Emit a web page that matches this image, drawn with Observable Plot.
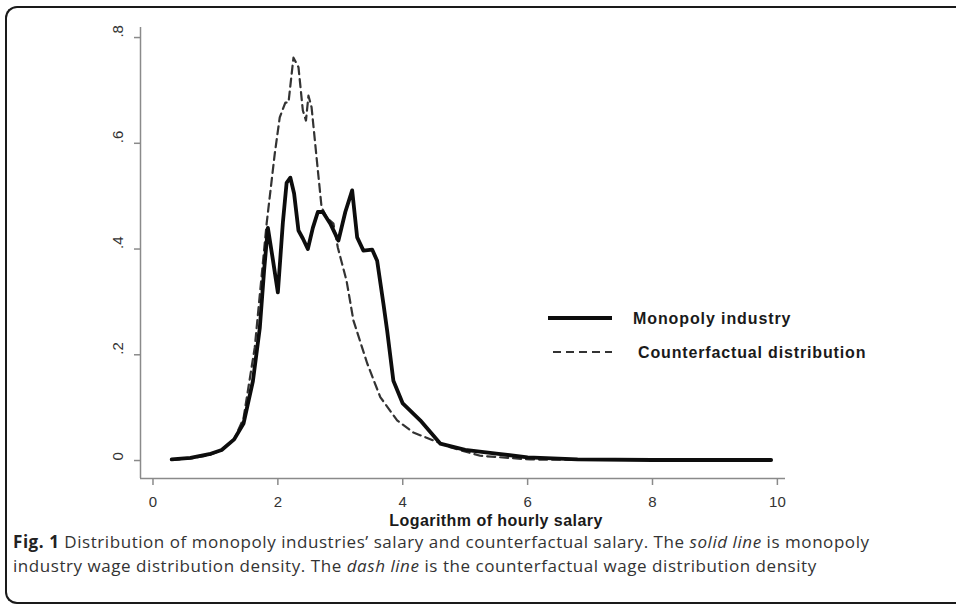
<!DOCTYPE html>
<html>
<head>
<meta charset="utf-8">
<script src="https://cdn.jsdelivr.net/npm/d3@7"></script>
<script src="https://cdn.jsdelivr.net/npm/@observablehq/plot@0.6"></script>
<style>
  html, body { margin: 0; padding: 0; background: #fff; overflow: hidden; }
  #wrap { position: relative; width: 956px; height: 606px; overflow: hidden; background: #fff; }
  #chart { position: absolute; left: 0; top: 0; }
  #border { position: absolute; left: 5px; top: 6px; width: 1200px; height: 594px; border: 2px solid #1a1a1a; border-right: none; border-radius: 12px 0 0 12px; pointer-events: none; }
  #legend { position: absolute; left: 540px; top: 300px; }
  #caption { position: absolute; left: 13px; top: 530px; width: 940px; white-space: nowrap; font-family: "Open Sans", sans-serif; font-size: 17px; letter-spacing: 0.55px; line-height: 24px; color: #333; }
  #caption b { color: #222; }
</style>
</head>
<body>
<div id="wrap">
  <div id="chart"></div>
  <div id="legend"></div>
  <div id="caption"><b>Fig. 1</b> Distribution of monopoly industries’ salary and counterfactual salary. The <i>solid line</i> is monopoly<br>industry wage distribution density. The <i>dash line</i> is the counterfactual wage distribution density</div>
  <div id="border"></div>
</div>
<script>
// Monopoly industry density (solid line)
const monoX = [0.3, 0.6, 0.9, 1.1, 1.3, 1.45, 1.6, 1.71, 1.78, 1.84, 1.92, 2.0, 2.08, 2.14, 2.2, 2.26, 2.33, 2.4, 2.48, 2.56, 2.64, 2.72, 2.84, 2.97, 3.08, 3.19, 3.27, 3.37, 3.51, 3.59, 3.69, 3.75, 3.85, 4.0, 4.28, 4.6, 5.0, 5.5, 6.0, 6.8, 8.0, 9.9];
const monoY = [0.002, 0.005, 0.012, 0.02, 0.04, 0.07, 0.15, 0.25, 0.36, 0.44, 0.38, 0.318, 0.45, 0.525, 0.535, 0.505, 0.435, 0.42, 0.40, 0.44, 0.47, 0.47, 0.448, 0.416, 0.47, 0.511, 0.422, 0.397, 0.399, 0.378, 0.297, 0.246, 0.151, 0.108, 0.076, 0.032, 0.02, 0.013, 0.006, 0.002, 0.001, 0.001];

// Counterfactual distribution density (dashed line)
const cfX = [0.3, 0.6, 0.9, 1.1, 1.3, 1.45, 1.63, 1.82, 1.95, 2.03, 2.12, 2.17, 2.25, 2.33, 2.4, 2.45, 2.49, 2.54, 2.62, 2.7, 2.78, 2.89, 2.96, 3.1, 3.21, 3.43, 3.64, 3.91, 4.17, 4.49, 4.76, 5.24, 6.04, 7.0, 8.0, 9.9];
const cfY = [0.001, 0.004, 0.01, 0.02, 0.04, 0.08, 0.214, 0.448, 0.58, 0.649, 0.677, 0.677, 0.762, 0.744, 0.662, 0.643, 0.69, 0.668, 0.573, 0.479, 0.46, 0.448, 0.403, 0.34, 0.265, 0.184, 0.12, 0.076, 0.053, 0.038, 0.025, 0.009, 0.002, 0.001, 0.001, 0.001];

const xTicks = [0, 2, 4, 6, 8, 10];
const yTicks = [0, 0.2, 0.4, 0.6, 0.8];
const yTickLabels = ["0", ".2", ".4", ".6", ".8"];
const seriesNames = ["Monopoly industry", "Counterfactual distribution"];
const xLabel = "Logarithm of hourly salary";

const xDomain = [-0.2, 10.13];
const yDomain = [-0.034, 0.819];

const mono = monoX.map((x, i) => ({x, y: monoY[i]}));
const cf = cfX.map((x, i) => ({x, y: cfY[i]}));
const yTickData = yTicks.map((v, i) => ({v, label: yTickLabels[i]}));

const axisColor = "#8a8a8a";
const textColor = "#333";

const chart = Plot.plot({
  width: 956,
  height: 530,
  marginLeft: 140,
  marginRight: 171,
  marginTop: 27,
  marginBottom: 52,
  style: {fontFamily: "Arial, 'Liberation Sans', sans-serif", background: "transparent"},
  x: {domain: xDomain},
  y: {domain: yDomain},
  marks: [
    Plot.ruleX([xDomain[0]], {stroke: axisColor, strokeWidth: 1.5}),
    Plot.ruleY([yDomain[0]], {stroke: axisColor, strokeWidth: 1.5}),
    Plot.axisY({ticks: yTicks, tickSize: 6, tickFormat: () => "", label: null, stroke: axisColor, strokeWidth: 1.5}),
    Plot.axisX({ticks: xTicks, tickSize: 7, tickPadding: 11, fontSize: 15, stroke: axisColor, strokeWidth: 1.5, color: textColor, label: null, tickFormat: d => String(d)}),
    Plot.text([xLabel], {text: d => d, frameAnchor: "bottom", dx: 33, dy: 47, fontSize: 16, fontWeight: "bold", fill: "#1a1a1a"}),
    Plot.text(yTickData, {y: "v", text: "label", frameAnchor: "left", dx: -22, rotate: -90, fontSize: 15, fill: textColor}),
    Plot.line(cf, {x: "x", y: "y", stroke: "#333", strokeWidth: 2.2, strokeDasharray: "8,5"}),
    Plot.line(mono, {x: "x", y: "y", stroke: "#0d0d0d", strokeWidth: 3.8, strokeLinejoin: "round"})
  ]
});
document.getElementById("chart").appendChild(chart);
d3.select(chart).selectAll("text").filter(function() { return this.textContent === xLabel; }).style("letter-spacing", "0.45px");

// Legend overlay
const lg = d3.select("#legend").append("svg").attr("width", 400).attr("height", 80)
  .style("font-family", "Arial, 'Liberation Sans', sans-serif");
const items = [
  {name: seriesNames[0], stroke: "#0d0d0d", w: 3.8, dash: null, x1: 8, x2: 72, tx: 93, y: 18, ls: 0.9},
  {name: seriesNames[1], stroke: "#333", w: 2.2, dash: "8,5", x1: 13, x2: 72, tx: 98, y: 52, ls: 0.85}
];
items.forEach(it => {
  lg.append("line").attr("x1", it.x1).attr("x2", it.x2).attr("y1", it.y).attr("y2", it.y)
    .attr("stroke", it.stroke).attr("stroke-width", it.w).attr("stroke-dasharray", it.dash);
  lg.append("text").attr("x", it.tx).attr("y", it.y).attr("dy", "0.35em")
    .attr("font-size", 16).attr("font-weight", "bold").attr("fill", "#1a1a1a")
    .style("letter-spacing", it.ls + "px").text(it.name);
});
</script>
</body>
</html>
